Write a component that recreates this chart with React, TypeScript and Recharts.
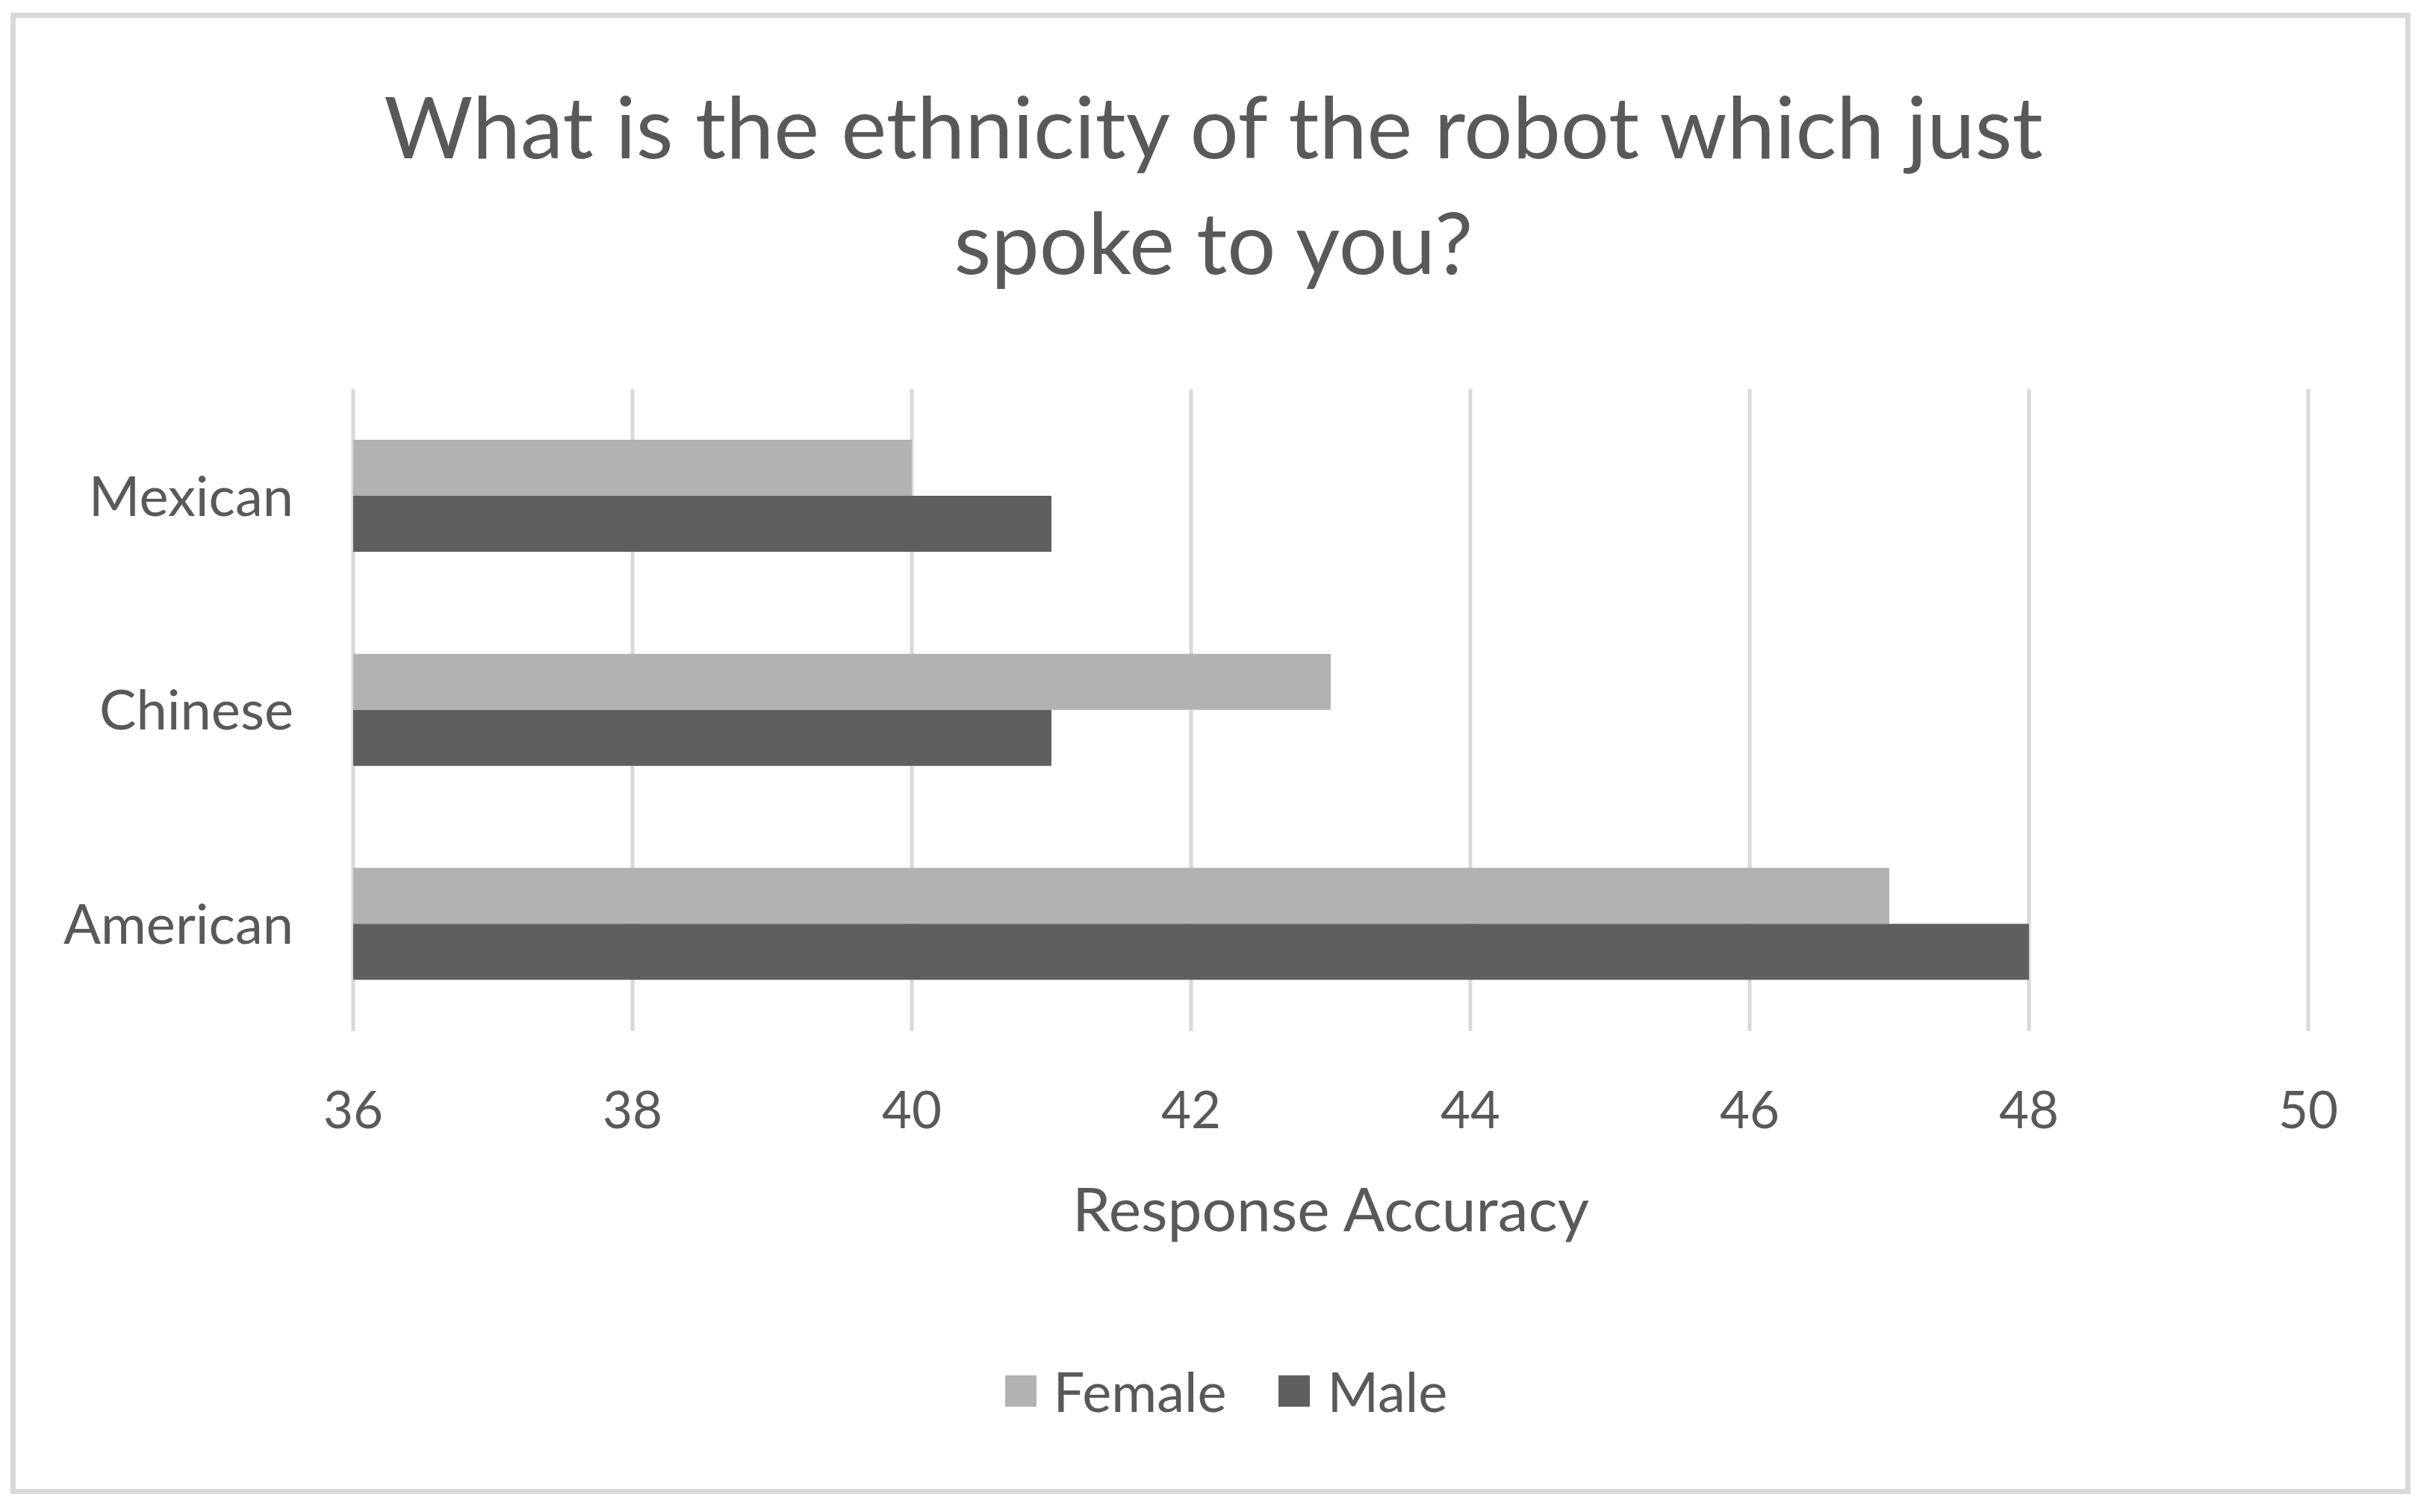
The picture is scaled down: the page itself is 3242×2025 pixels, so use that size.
import { BarChart, Bar, XAxis, YAxis, CartesianGrid, Legend } from 'recharts';

const categories = ['Mexican', 'Chinese', 'American'];
const femaleValues = [40, 43, 47];
const maleValues = [41, 41, 48];
const xTicks = [36, 38, 40, 42, 44, 46, 48, 50];

const titleLines = ['What is the ethnicity of the robot which just', 'spoke to you?'];

const FEMALE = '#b2b2b2';
const MALE = '#5f5f5f';
const TEXT = '#595959';
const FONT = 'Lato, "Open Sans", sans-serif';

const data = categories.map((name, i) => ({
  name,
  Female: femaleValues[i],
  Male: maleValues[i],
}));

const renderLegend = (props: any) => {
  const { payload } = props;
  return (
    <div style={{ display: 'flex', justifyContent: 'center', fontFamily: FONT, fontSize: 74, color: TEXT }}>
      {payload.map((p: any) => (
        <div key={p.value} style={{ display: 'flex', alignItems: 'center', margin: '0 35px' }}>
          <span style={{ width: 42, height: 42, background: p.color, display: 'inline-block', marginRight: 23 }} />
          <span>{p.value}</span>
        </div>
      ))}
    </div>
  );
};

const App = () => {
  return (
    <div style={{ position: 'absolute', left: 0, top: 0, width: 3242, height: 2025, background: '#fff' }}>
      <div
        style={{
          position: 'absolute',
          left: 14,
          top: 17,
          width: 3214,
          height: 1984,
          border: '7px solid #d9d9d9',
          boxSizing: 'border-box',
        }}
      />
      <div
        style={{
          position: 'absolute',
          left: 0,
          top: 90,
          width: 3250,
          textAlign: 'center',
          fontFamily: FONT,
          fontSize: 115,
          lineHeight: '155px',
          color: TEXT,
        }}
      >
        {titleLines.map((t) => (
          <div key={t}>{t}</div>
        ))}
      </div>
      <BarChart
        width={3242}
        height={2025}
        data={data}
        layout="vertical"
        margin={{ top: 521, right: 151, bottom: 344, left: 0 }}
        barGap={0}
        style={{ position: 'absolute', left: 0, top: 0 }}
      >
        <CartesianGrid horizontal={false} stroke="#d9d9d9" strokeWidth={5} />
        <XAxis
          type="number"
          domain={[36, 50]}
          ticks={xTicks}
          axisLine={false}
          tickLine={false}
          tickSize={0}
          tickMargin={81}
          height={300}
          tick={{ fill: TEXT, fontSize: 69, fontFamily: FONT }}
          label={{ value: 'Response Accuracy', position: 'insideTop', offset: 210, fill: TEXT, fontSize: 82, fontFamily: FONT }}
        />
        <YAxis
          type="category"
          dataKey="name"
          axisLine={false}
          tickLine={false}
          tickSize={0}
          tickMargin={80}
          width={473}
          tick={{ fill: TEXT, fontSize: 74, fontFamily: FONT }}
        />
        <Legend
          layout="horizontal"
          verticalAlign="middle"
          align="center"
          content={renderLegend}
          wrapperStyle={{ top: 1818, left: 0, width: 3284 }}
        />
        <Bar dataKey="Female" fill={FEMALE} barSize={75} isAnimationActive={false} />
        <Bar dataKey="Male" fill={MALE} barSize={75} isAnimationActive={false} />
      </BarChart>
    </div>
  );
};

export default App;
